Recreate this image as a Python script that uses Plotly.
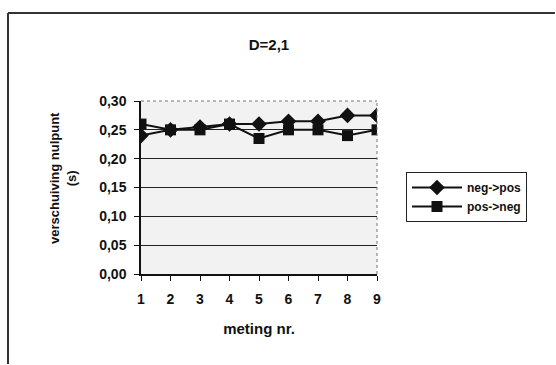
import plotly.graph_objects as go

# Measurements
meting = [1, 2, 3, 4, 5, 6, 7, 8, 9]
neg_pos = [0.24, 0.25, 0.255, 0.26, 0.26, 0.265, 0.265, 0.275, 0.275]
pos_neg = [0.26, 0.25, 0.25, 0.26, 0.235, 0.25, 0.25, 0.24, 0.25]
y_ticks = [0.00, 0.05, 0.10, 0.15, 0.20, 0.25, 0.30]
y_tick_text = ["0,00", "0,05", "0,10", "0,15", "0,20", "0,25", "0,30"]

W, H = 556, 365
L, R, T, B = 141, 377, 101, 274  # plot area in pixels
FONT = "Liberation Sans"


def px(x):
    return (x - L) / (R - L)


def py(y):
    return (B - y) / (B - T)


fig = go.Figure()
fig.add_trace(go.Scatter(
    x=meting, y=neg_pos, name="<b>neg->pos</b>", mode="lines+markers",
    line=dict(color="#111111", width=2),
    marker=dict(symbol="diamond", size=12, color="#111111"),
))
fig.add_trace(go.Scatter(
    x=meting, y=pos_neg, name="<b>pos->neg</b>", mode="lines+markers",
    line=dict(color="#111111", width=2),
    marker=dict(symbol="square", size=11, color="#111111"),
))

fig.update_layout(
    width=W, height=H,
    margin=dict(l=L, r=W - R, t=T, b=H - B),
    paper_bgcolor="white",
    plot_bgcolor="#f2f2f2",
    font=dict(family=FONT, size=14, color="#111111"),
    title=dict(text="<b>D=2,1</b>", x=269 / W, y=1 - 45 / H,
               xanchor="center", yanchor="middle",
               font=dict(family=FONT, size=15, color="#111111")),
    showlegend=True,
    legend=dict(
        x=px(406), y=py(172), xanchor="left", yanchor="top",
        bgcolor="white", bordercolor="#222222", borderwidth=1,
        font=dict(family=FONT, size=12, color="#111111"),
        itemwidth=50, tracegroupgap=0,
    ),
    xaxis=dict(
        range=[1, 9], tickvals=meting, ticktext=[f"<b>{m}</b>" for m in meting],
        showline=True, linecolor="#111111", linewidth=1.5,
        ticks="outside", ticklen=5, tickcolor="#111111",
        ticklabelstandoff=6,
        showgrid=False, zeroline=False,
        title=dict(text="<b>meting nr.</b>", standoff=18,
                   font=dict(family=FONT, size=15)),
    ),
    yaxis=dict(
        range=[0, 0.30], tickvals=y_ticks,
        ticktext=[f"<b>{t}</b>" for t in y_tick_text],
        showline=True, linecolor="#111111", linewidth=1.5,
        ticks="outside", ticklen=5, tickcolor="#111111",
        ticklabelstandoff=5,
        showgrid=True, gridcolor="#222222", gridwidth=1.2,
        zeroline=False,
    ),
)

# y-axis title in two lines, rotated
fig.add_annotation(
    text="<b>verschuiving nulpunt<br>(s)</b>", textangle=-90,
    xref="paper", yref="paper", x=px(63), y=py(178),
    xanchor="center", yanchor="middle", showarrow=False,
    font=dict(family=FONT, size=13, color="#111111"),
)

# right and top edges of the plot area
fig.add_shape(type="line", xref="paper", yref="paper", x0=1, x1=1, y0=0, y1=1,
              line=dict(color="#777777", width=1, dash="dot"))
fig.add_shape(type="line", xref="paper", yref="paper", x0=0, x1=1, y0=1, y1=1,
              line=dict(color="#777777", width=1, dash="dot"))

# outer chart frame (top and left edges inside the page)
fig.add_shape(type="line", xref="paper", yref="paper",
              x0=px(8), x1=px(W - 1), y0=py(13), y1=py(13),
              line=dict(color="#333333", width=2))
fig.add_shape(type="line", xref="paper", yref="paper",
              x0=px(8), x1=px(8), y0=py(13), y1=py(H - 1),
              line=dict(color="#333333", width=2))

fig.write_html("out.html", config={"displayModeBar": False})
